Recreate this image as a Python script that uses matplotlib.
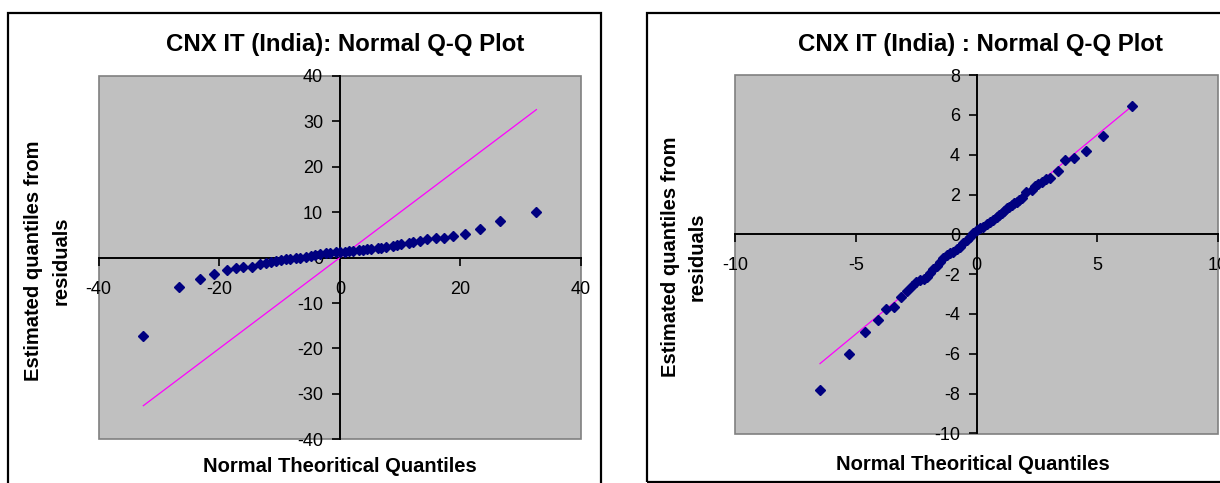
import matplotlib
matplotlib.use("Agg")
import matplotlib.pyplot as plt
from matplotlib.patches import Rectangle

plt.rcParams['font.family'] = ['Liberation Sans', 'DejaVu Sans']

# ---- Left chart data (theoretical quantile, residual quantile) ----
left_x = [-32.6, -26.6, -23.2, -20.9, -18.8, -17.2, -16.0, -14.5, -13.3, -12.3,
          -11.4, -10.6, -9.8, -9.0, -8.2, -7.3, -6.6, -5.6, -4.8, -4.1,
          -3.3, -2.3, -1.6, -0.7, 0.0, 0.8, 1.5, 2.2, 3.1, 3.9,
          4.5, 5.2, 6.3, 6.8, 7.7, 8.8, 9.4, 10.2, 11.4, 12.1,
          13.3, 14.5, 15.9, 17.2, 18.7, 20.7, 23.2, 26.5, 32.6]
left_y = [-17.2, -6.4, -4.7, -3.6, -2.7, -2.2, -2.0, -2.0, -1.45, -1.25,
          -1.0, -0.7, -0.5, -0.3, -0.3, -0.1, 0.0, 0.15, 0.35, 0.6,
          0.7, 1.0, 1.1, 1.25, 1.2, 1.3, 1.4, 1.5, 1.7, 1.7,
          1.8, 2.0, 2.1, 2.2, 2.4, 2.6, 2.8, 2.9, 3.3, 3.5,
          3.7, 4.0, 4.4, 4.4, 4.85, 5.3, 6.4, 8.0, 10.0]

# ---- Right chart data ----
right_x = [-6.49, -5.29, -4.63, -4.10, -3.74, -3.43, -3.14, -2.90, -2.69, -2.50,
           -2.35, -2.20, -2.07, -1.93, -1.80, -1.66, -1.52, -1.38, -1.24, -1.10,
           -0.97, -0.83, -0.69, -0.55, -0.41, -0.27, -0.14, 0.0, 0.14, 0.27,
           0.41, 0.55, 0.69, 0.83, 0.94, 1.04, 1.14, 1.24, 1.35, 1.45,
           1.55, 1.66, 1.76, 1.86, 2.03, 2.28, 2.42, 2.55, 2.69, 2.87,
           3.05, 3.36, 3.65, 4.02, 4.54, 5.22, 6.45]
right_y = [-7.84, -6.01, -4.92, -4.30, -3.77, -3.67, -3.13, -2.85, -2.58, -2.40,
           -2.30, -2.22, -2.13, -1.95, -1.76, -1.57, -1.37, -1.18, -1.04, -0.95,
           -0.87, -0.75, -0.62, -0.45, -0.29, -0.12, 0.05, 0.20, 0.30, 0.38,
           0.50, 0.63, 0.74, 0.85, 0.95, 1.05, 1.18, 1.30, 1.38, 1.47,
           1.55, 1.64, 1.72, 1.81, 2.14, 2.22, 2.43, 2.53, 2.64, 2.76,
           2.83, 3.20, 3.75, 3.83, 4.20, 4.94, 6.44]

left_ticks = [-40, -30, -20, -10, 0, 10, 20, 30, 40]
left_xticks = [-40, -20, 0, 20, 40]
right_yticks = [-10, -8, -6, -4, -2, 0, 2, 4, 6, 8]
right_xticks = [-10, -5, 0, 5, 10]

W, H = 1220, 483
fig = plt.figure(figsize=(W / 100, H / 100), dpi=100)
fig.patch.set_facecolor('white')

def px_rect(x0, y0, x1, y1):
    # pixel coords (top-left origin) -> figure fraction [l, b, w, h]
    return [x0 / W, 1 - y1 / H, (x1 - x0) / W, (y1 - y0) / H]

# outer frames
for (x0, y0, x1, y1) in [(8, 13, 601, 490), (647, 13, 1230, 481.5)]:
    l, b, w, h = px_rect(x0, y0, x1, y1)
    fig.add_artist(Rectangle((l, b), w, h, transform=fig.transFigure,
                             fill=False, ec='black', lw=1.6, clip_on=False))

navy = '#000080'
magenta = '#FF00FF'

def style_axes(ax, xlim, ylim, xticks, yticks):
    ax.set_facecolor('#C0C0C0')
    ax.set_xlim(*xlim)
    ax.set_ylim(*ylim)
    for s in ['top', 'right']:
        ax.spines[s].set_visible(False)
    for s in ['left', 'bottom']:
        ax.spines[s].set_position(('data', 0))
        ax.spines[s].set_color('black')
        ax.spines[s].set_linewidth(1.4)
        ax.spines[s].set_zorder(1.5)
    ax.add_patch(Rectangle((0, 0), 1, 1, transform=ax.transAxes, fill=False,
                           ec='#808080', lw=1.2, clip_on=False, zorder=1))
    ax.set_xticks(xticks)
    ax.set_yticks(yticks)
    ax.set_xticklabels([str(t) for t in xticks])
    ax.set_yticklabels([str(t) for t in yticks])
    ax.tick_params(axis='both', direction='out', length=5.5, width=1.2,
                   labelsize=13, colors='black')
    ax.tick_params(axis='x', pad=11)
    ax.tick_params(axis='y', pad=6.5)

# Left axes
axL = fig.add_axes(px_rect(98.7, 76, 581, 439.3))
style_axes(axL, (-40, 40), (-40, 40), left_xticks, left_ticks)
axL.plot(left_x, left_x, color=magenta, lw=0.9, zorder=2)
axL.plot(left_x, left_y, linestyle='none', marker='D', ms=5.5, color=navy,
         mec=navy, zorder=3, clip_on=False)

# Right axes
axR = fig.add_axes(px_rect(735.3, 75, 1218, 433.5))
style_axes(axR, (-10, 10), (-10, 8), right_xticks, right_yticks)
axR.plot(right_x, right_x, color=magenta, lw=0.9, zorder=2)
axR.plot(right_x, right_y, linestyle='none', marker='D', ms=5.5, color=navy,
         mec=navy, zorder=3, clip_on=False)

def ftext(x, y, s, **kw):
    fig.text(x / W, 1 - y / H, s, ha='center', va='center', **kw)

title_kw = dict(fontsize=17.3, fontweight='bold')
lab_kw = dict(fontsize=14.5, fontweight='bold')

ftext(345, 44, 'CNX IT (India): Normal Q-Q Plot', **title_kw)
ftext(981, 44, 'CNX IT (India) : Normal Q-Q Plot', **title_kw)

ftext(340, 466, 'Normal Theoritical Quantiles', **lab_kw)
ftext(973, 465, 'Normal Theoritical Quantiles', **lab_kw)

ftext(34, 261, 'Estimated quantiles from', rotation=90, **lab_kw)
ftext(61, 261, 'residuals', rotation=90, **lab_kw)
ftext(670, 257, 'Estimated quantiles from', rotation=90, **lab_kw)
ftext(697, 257, 'residuals', rotation=90, **lab_kw)

fig.savefig('out.png', dpi=100)
